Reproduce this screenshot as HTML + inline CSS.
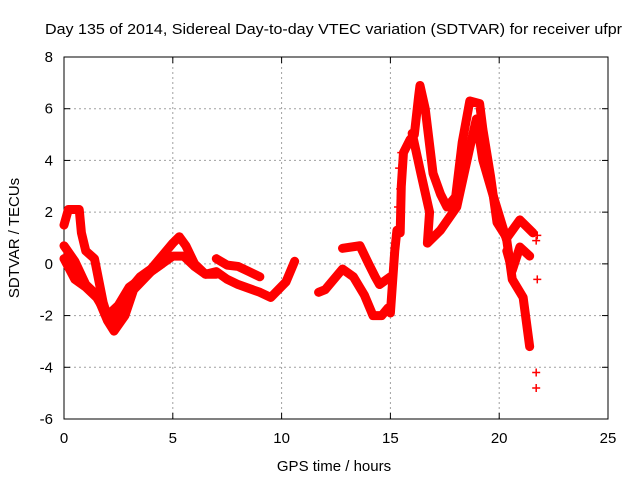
<!DOCTYPE html>
<html><head><meta charset="utf-8"><style>
body{margin:0;background:#fff;font-family:"Liberation Sans",sans-serif;}
svg text{font-family:"Liberation Sans",sans-serif;font-size:15px;fill:#000;}
</style></head><body>
<svg id="chart" width="640" height="480">
<text x="45" y="34" textLength="577" lengthAdjust="spacingAndGlyphs">Day 135 of 2014, Sidereal Day-to-day VTEC variation (SDTVAR) for receiver ufpr</text>
<text x="334" y="471" text-anchor="middle">GPS time / hours</text>
<text transform="translate(19,238) rotate(-90)" text-anchor="middle">SDTVAR / TECUs</text>
<g id="grid"></g><g id="axes"></g><g id="marks"></g>
</svg>
<script>
const xTicks=[0,5,10,15,20,25];
const yTicks=[-6,-4,-2,0,2,4,6,8];
const trackA=[[0,1.5],[0.2,2.1],[0.7,2.1],[0.8,1.2],[1.0,0.5],[1.4,0.2],[1.8,-1.5],[2.1,-2.3],[2.5,-2.0],[3.0,-1.0],[3.5,-0.5],[4.0,-0.2],[4.5,0.3],[5.0,0.8],[5.3,1.05],[5.6,0.7],[6.0,0.0],[6.5,-0.4],[7.0,-0.4]];
const trackB=[[0,0.7],[0.5,0.1],[1.0,-0.8],[1.5,-1.2],[2.0,-2.2],[2.3,-2.6],[2.8,-2.0],[3.2,-1.0],[4.0,-0.3],[5.0,0.3],[5.5,0.3],[6.0,-0.1],[6.5,-0.4],[7.0,-0.3],[7.5,-0.6],[8.0,-0.8],[9.0,-1.1],[9.5,-1.3],[10.2,-0.7],[10.6,0.1]];
const trackC=[[0,0.2],[0.5,-0.6],[1.0,-0.9],[1.5,-1.3],[2.0,-2.0],[2.5,-1.6],[3.0,-0.9],[3.5,-0.6],[4.0,-0.3],[4.5,0.0]];
const trackD=[[7.0,0.2],[7.5,-0.05],[8.0,-0.1],[8.5,-0.3],[9.0,-0.5]];
const trackE=[[12.8,0.6],[13.6,0.7],[14.0,0.0],[14.3,-0.5],[14.5,-0.8],[15.0,-0.5]];
const trackF=[[11.7,-1.1],[12.0,-1.0],[12.8,-0.2],[13.3,-0.5],[13.8,-1.2],[14.2,-2.0],[14.6,-2.0],[14.9,-1.7],[15.0,-1.9],[15.2,0.5],[15.3,1.3],[15.45,1.2],[15.5,3.0],[15.6,4.3],[15.9,4.8],[16.1,5.0],[16.3,6.5],[16.36,6.9],[16.6,6.0],[16.96,3.5],[17.3,2.7],[17.6,2.2],[18.0,2.6],[18.3,4.7],[18.65,6.3],[19.1,6.2],[19.25,5.2],[19.6,3.4],[19.9,1.6],[20.35,1.0],[20.95,1.7],[21.55,1.2]];
const trackG=[[16.0,5.05],[16.4,3.5],[16.8,2.0],[16.7,0.8],[17.3,1.3],[18.05,2.2],[18.65,4.5],[18.95,5.6],[19.25,4.0],[19.7,2.7],[20.35,0.9],[20.6,-0.6],[21.1,-1.3],[21.4,-3.2]];
const trackH=[[20.35,0.5],[20.6,-0.25],[20.95,0.65],[21.4,0.3]];
const isolated=[[21.7,-4.2],[21.7,-4.8],[21.75,-0.6],[21.75,1.1],[21.7,0.9],[15.5,4.3],[15.4,3.7],[15.45,2.9],[15.35,2.2]];
const X0=64,X1=608,Y0=419,Y1=57,xmin=0,xmax=25,ymin=-6,ymax=8;
function sx(v){return X0+(v-xmin)/(xmax-xmin)*(X1-X0);}
function sy(v){return Y0-(v-ymin)/(ymax-ymin)*(Y0-Y1);}
const NS="http://www.w3.org/2000/svg";
function mk(t,a,p){const e=document.createElementNS(NS,t);for(const k in a)e.setAttribute(k,a[k]);p.appendChild(e);return e;}
const grid=document.getElementById('grid'),axes=document.getElementById('axes'),marks=document.getElementById('marks');
xTicks.forEach(t=>{
 const g=mk('line',{x1:sx(t),x2:sx(t),y1:Y1,y2:Y0,stroke:'#a0a0a0','stroke-dasharray':'2,3'},grid);
 
 
 const l=mk('text',{x:sx(t),y:Y0+24,'text-anchor':'middle'},axes);l.textContent=t;
 
 
 mk('line',{x1:sx(t),x2:sx(t),y1:Y0,y2:Y0-6,stroke:'#000'},axes);
 mk('line',{x1:sx(t),x2:sx(t),y1:Y1,y2:Y1+6,stroke:'#000'},axes);
});
yTicks.forEach(t=>{
 const g=mk('line',{x1:X0,x2:X1,y1:sy(t),y2:sy(t),stroke:'#a0a0a0','stroke-dasharray':'2,3'},grid);
 
 
 const l=mk('text',{x:X0-11,y:sy(t)+5,'text-anchor':'end'},axes);l.textContent=t;
 
 
 mk('line',{x1:X0,x2:X0+6,y1:sy(t),y2:sy(t),stroke:'#000'},axes);
 mk('line',{x1:X1,x2:X1-6,y1:sy(t),y2:sy(t),stroke:'#000'},axes);
});
const fr=mk('rect',{x:X0,y:Y1,width:X1-X0,height:Y0-Y1,fill:'none',stroke:'#000'},axes);


function plus(p){const x=sx(p[0]),y=sy(p[1]);
 const e=mk('path',{d:`M${x-4},${y}H${x+4}M${x},${y-4}V${y+4}`,stroke:'#f00','stroke-width':1.5},marks);
 
 }
[trackA,trackB,trackC,trackD,trackE,trackF,trackG,trackH].forEach(tr=>{
 const d=tr.map((p,i)=>(i?'L':'M')+sx(p[0])+','+sy(p[1])).join('');
 const e=mk('path',{d:d,stroke:'#f00','stroke-width':9,fill:'none','stroke-linejoin':'round','stroke-linecap':'round'},marks);
 
 
 tr.forEach(plus);
});
isolated.forEach(plus);
</script>
</body></html>
